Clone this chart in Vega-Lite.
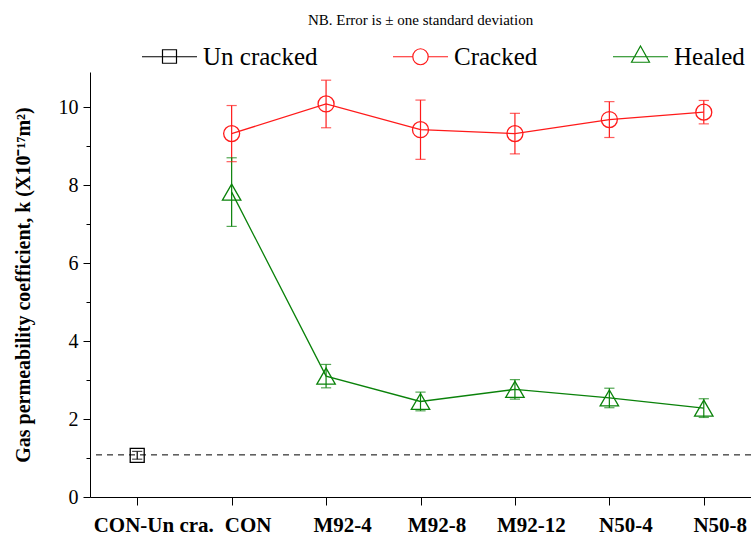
{
  "$schema": "https://vega.github.io/schema/vega-lite/v6.json",
  "width": 661,
  "height": 425,
  "autosize": {"type": "none"},
  "padding": {"left": 90, "top": 72, "right": 0, "bottom": 40},
  "background": "white",
  "title": {
    "text": "NB. Error is ± one standard deviation",
    "font": "Liberation Serif",
    "fontSize": 15,
    "fontWeight": "normal",
    "color": "black",
    "anchor": "middle",
    "frame": "group",
    "offset": 16
  },
  "config": {
    "view": {"stroke": null},
    "axis": {
      "domainColor": "black",
      "tickColor": "black",
      "labelColor": "black",
      "titleColor": "black",
      "labelFont": "Liberation Serif",
      "titleFont": "Liberation Serif",
      "grid": false,
      "domainWidth": 1,
      "tickWidth": 1
    },
    "legend": {
      "title": null,
      "orient": "none",
      "legendX": 67,
      "legendY": -28,
      "direction": "horizontal",
      "columns": 3,
      "columnPadding": 72,
      "padding": 0,
      "symbolSize": 400,
      "symbolStrokeWidth": 1.2,
      "symbolOpacity": 1,
      "symbolFillColor": "transparent",
      "labelFont": "Liberation Serif",
      "labelFontSize": 25,
      "labelColor": "black",
      "labelOffset": 21,
      "labelLimit": 300
    }
  },
  "datasets": {
    "perm": [
      {"specimen": "CON-Un cra.", "series": "Un cracked", "k": 1.07, "lo": 0.97, "hi": 1.17},
      {"specimen": "CON", "series": "Cracked", "k": 9.32, "lo": 8.6, "hi": 10.04},
      {"specimen": "M92-4", "series": "Cracked", "k": 10.08, "lo": 9.47, "hi": 10.69},
      {"specimen": "M92-8", "series": "Cracked", "k": 9.42, "lo": 8.66, "hi": 10.18},
      {"specimen": "M92-12", "series": "Cracked", "k": 9.32, "lo": 8.8, "hi": 9.84},
      {"specimen": "N50-4", "series": "Cracked", "k": 9.68, "lo": 9.22, "hi": 10.14},
      {"specimen": "N50-8", "series": "Cracked", "k": 9.87, "lo": 9.57, "hi": 10.17},
      {"specimen": "CON", "series": "Healed", "k": 7.82, "lo": 6.94, "hi": 8.7},
      {"specimen": "M92-4", "series": "Healed", "k": 3.1, "lo": 2.8, "hi": 3.4},
      {"specimen": "M92-8", "series": "Healed", "k": 2.45, "lo": 2.21, "hi": 2.69},
      {"specimen": "M92-12", "series": "Healed", "k": 2.76, "lo": 2.51, "hi": 3.01},
      {"specimen": "N50-4", "series": "Healed", "k": 2.54, "lo": 2.29, "hi": 2.79},
      {"specimen": "N50-8", "series": "Healed", "k": 2.28, "lo": 2.04, "hi": 2.52}
    ],
    "reference": [{"k": 1.08}]
  },
  "encoding": {
    "x": {
      "field": "specimen",
      "type": "nominal",
      "sort": ["CON-Un cra.", "CON", "M92-4", "M92-8", "M92-12", "N50-4", "N50-8"],
      "scale": {"type": "point", "padding": 0.5},
      "axis": {
        "title": null,
        "labelAngle": 0,
        "labelFontSize": 21,
        "labelFontWeight": "bold",
        "tickSize": 8,
        "labelPadding": 9,
        "labelOffset": 16
      }
    },
    "y": {
      "field": "k",
      "type": "quantitative",
      "scale": {"domain": [0, 10.9], "nice": false},
      "axis": {
        "title": "Gas permeability coefficient, k (X10⁻¹⁷m²)",
        "titleFontSize": 20,
        "titleFontWeight": "bold",
        "titlePadding": 25,
        "values": [0, 1, 2, 3, 4, 5, 6, 7, 8, 9, 10],
        "labelExpr": "datum.value % 2 === 0 ? datum.label : ''",
        "labelFontSize": 20,
        "labelPadding": 5,
        "tickSize": {"condition": {"test": "datum.value % 2 === 1", "value": 4}, "value": 7}
      }
    }
  },
  "layer": [
    {
      "data": {"name": "reference"},
      "mark": {"type": "rule", "color": "black", "strokeWidth": 1, "strokeDash": [6, 5]},
      "encoding": {"x": null, "y": {"field": "k", "type": "quantitative"}}
    },
    {
      "data": {"name": "perm"},
      "mark": {"type": "point", "filled": false, "opacity": 0, "strokeWidth": 1.2},
      "encoding": {
        "color": {
          "field": "series",
          "type": "nominal",
          "scale": {"domain": ["Un cracked", "Cracked", "Healed"], "range": ["#000000", "#ff1a1a", "#0a820a"]},
          "legend": {"symbolOpacity": 1, "symbolFillColor": "transparent"}
        },
        "shape": {
          "field": "series",
          "type": "nominal",
          "scale": {
            "domain": ["Un cracked", "Cracked", "Healed"],
            "range": [
              "M-2.75,0H2.75M-0.7,-0.7H0.7V0.65H-0.7Z",
              "M-2.75,0H-0.77M0.77,0H2.75M0.77,0A0.77,0.8,0,1,1,-0.77,0A0.77,0.8,0,1,1,0.77,0Z",
              "M-2.75,0H2.75M0,-1.07L0.9,0.55L-0.9,0.55Z"
            ]
          },
          "legend": {"symbolOpacity": 1, "symbolFillColor": "transparent"}
        }
      }
    },
    {
      "data": {"name": "perm"},
      "mark": {"type": "rule", "strokeWidth": 1.2},
      "encoding": {
        "y": {
          "field": "lo",
          "type": "quantitative",
          "scale": {"domain": [0, 10.9], "nice": false},
          "axis": {
            "title": "Gas permeability coefficient, k (X10⁻¹⁷m²)",
            "titleFontSize": 20,
            "titleFontWeight": "bold",
            "titlePadding": 25,
            "values": [0, 1, 2, 3, 4, 5, 6, 7, 8, 9, 10],
            "labelExpr": "datum.value % 2 === 0 ? datum.label : ''",
            "labelFontSize": 20,
            "labelPadding": 5,
            "tickSize": {"condition": {"test": "datum.value % 2 === 1", "value": 4}, "value": 7}
          }
        },
        "y2": {"field": "hi"},
        "color": {"field": "series", "type": "nominal"}
      }
    },
    {
      "data": {"name": "perm"},
      "mark": {"type": "tick", "filled": false, "thickness": 0.001, "size": 9, "strokeWidth": 1.2},
      "encoding": {
        "y": {
          "field": "lo",
          "type": "quantitative",
          "scale": {"domain": [0, 10.9], "nice": false},
          "axis": {
            "title": "Gas permeability coefficient, k (X10⁻¹⁷m²)",
            "titleFontSize": 20,
            "titleFontWeight": "bold",
            "titlePadding": 25,
            "values": [0, 1, 2, 3, 4, 5, 6, 7, 8, 9, 10],
            "labelExpr": "datum.value % 2 === 0 ? datum.label : ''",
            "labelFontSize": 20,
            "labelPadding": 5,
            "tickSize": {"condition": {"test": "datum.value % 2 === 1", "value": 4}, "value": 7}
          }
        },
        "color": {"field": "series", "type": "nominal"}
      }
    },
    {
      "data": {"name": "perm"},
      "mark": {"type": "tick", "filled": false, "thickness": 0.001, "size": 9, "strokeWidth": 1.2},
      "encoding": {
        "y": {
          "field": "hi",
          "type": "quantitative",
          "scale": {"domain": [0, 10.9], "nice": false},
          "axis": {
            "title": "Gas permeability coefficient, k (X10⁻¹⁷m²)",
            "titleFontSize": 20,
            "titleFontWeight": "bold",
            "titlePadding": 25,
            "values": [0, 1, 2, 3, 4, 5, 6, 7, 8, 9, 10],
            "labelExpr": "datum.value % 2 === 0 ? datum.label : ''",
            "labelFontSize": 20,
            "labelPadding": 5,
            "tickSize": {"condition": {"test": "datum.value % 2 === 1", "value": 4}, "value": 7}
          }
        },
        "color": {"field": "series", "type": "nominal"}
      }
    },
    {
      "data": {"name": "perm"},
      "mark": {"type": "line", "strokeWidth": 1.3},
      "encoding": {
        "color": {"field": "series", "type": "nominal"}
      }
    },
    {
      "data": {"name": "perm"},
      "transform": [{"filter": "datum.series === 'Un cracked'"}],
      "mark": {"type": "point", "shape": "square", "size": 196, "filled": false, "strokeWidth": 1.3, "opacity": 1},
      "encoding": {"color": {"field": "series", "type": "nominal"}}
    },
    {
      "data": {"name": "perm"},
      "transform": [{"filter": "datum.series === 'Cracked'"}],
      "mark": {"type": "point", "shape": "circle", "size": 256, "filled": false, "strokeWidth": 1.3, "opacity": 1},
      "encoding": {"color": {"field": "series", "type": "nominal"}}
    },
    {
      "data": {"name": "perm"},
      "transform": [{"filter": "datum.series === 'Healed'"}],
      "mark": {"type": "point", "shape": "triangle-up", "size": 340, "filled": false, "strokeWidth": 1.3, "opacity": 1},
      "encoding": {"color": {"field": "series", "type": "nominal"}}
    }
  ]
}
